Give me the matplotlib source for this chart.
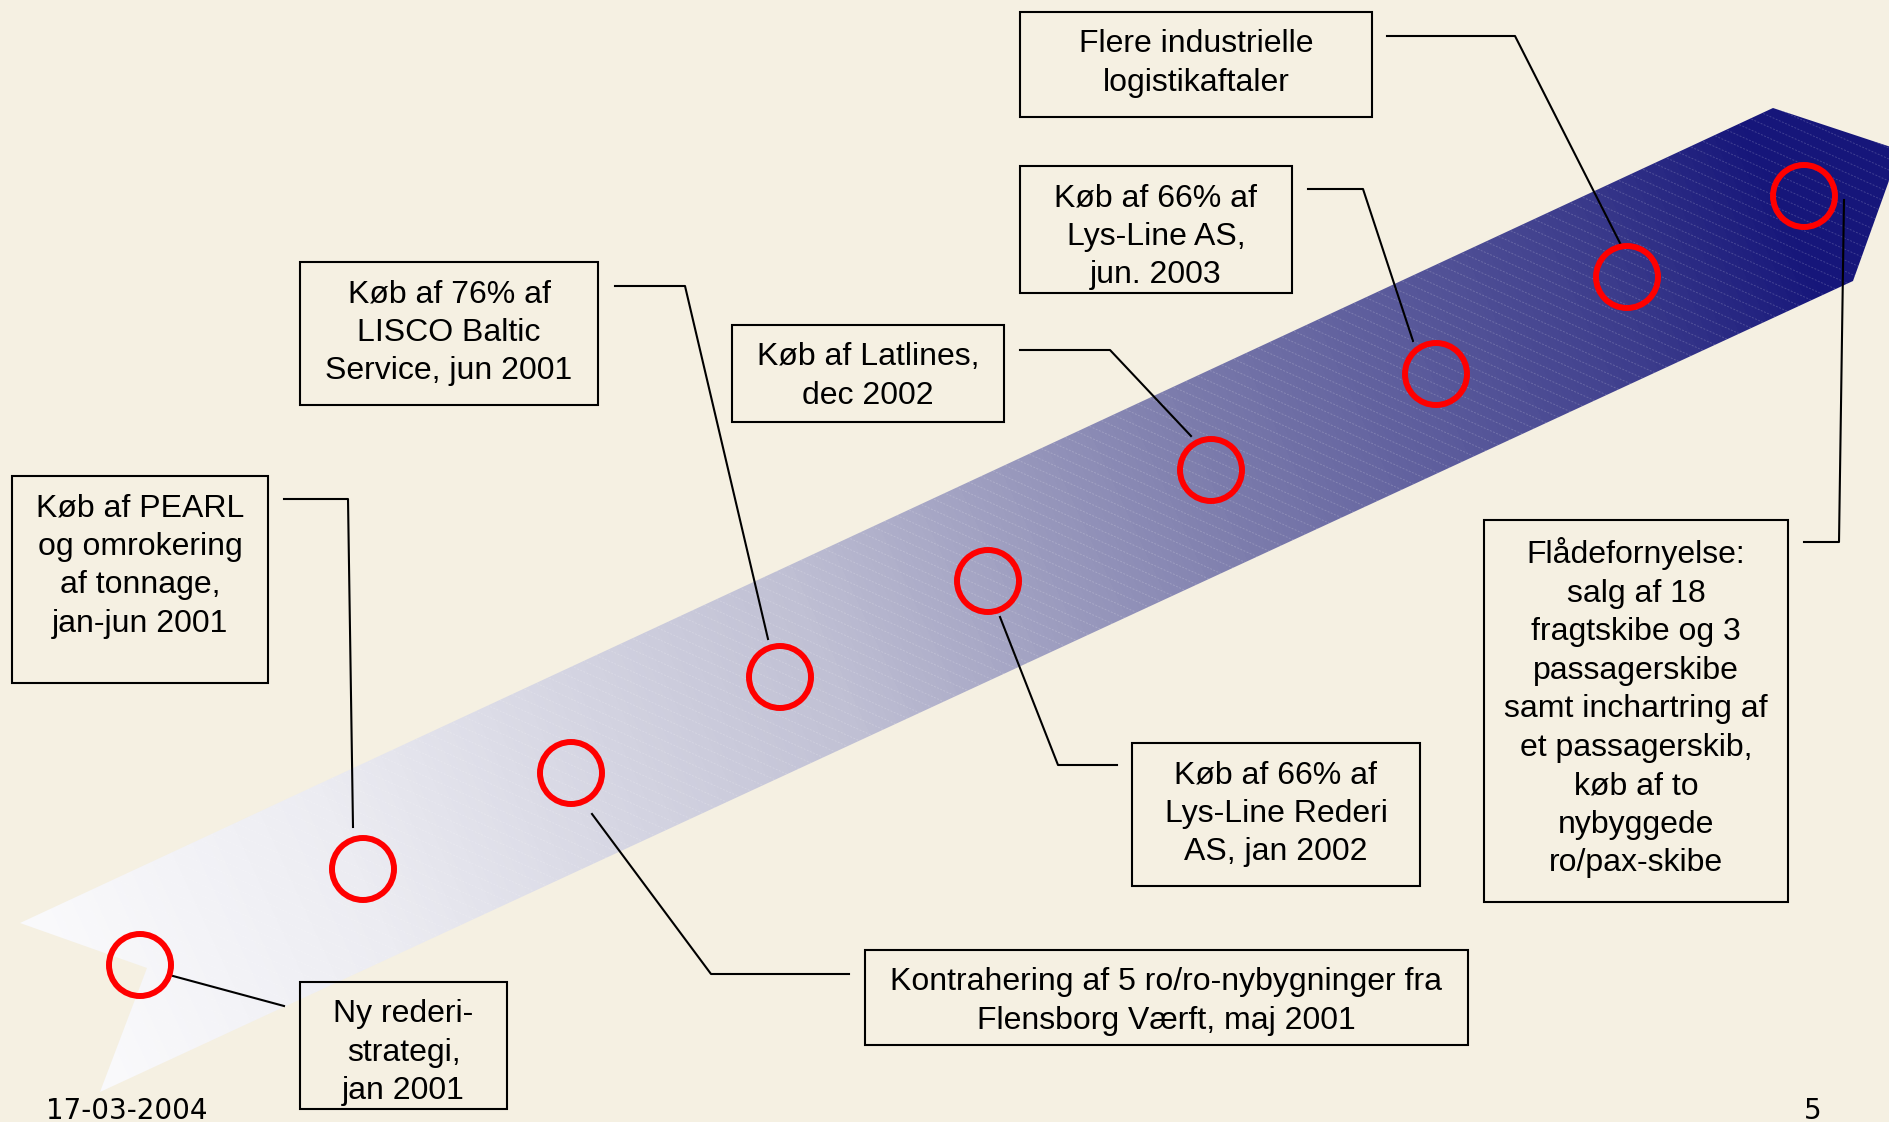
import numpy as np
import matplotlib.pyplot as plt
from matplotlib.colors import LinearSegmentedColormap
from matplotlib.patches import Polygon, Circle, Rectangle

W, H = 1890, 1122
BG = "#f5f0e2"

# milestone circles (pixel positions along the arrow)
circle_x = [140, 363, 571, 780, 988, 1211, 1436, 1627, 1804]
circle_y = [965, 869, 773, 677, 581, 470, 374, 277, 196]

labels = [
    "Ny rederi-\nstrategi,\njan 2001",
    "Køb af PEARL\nog omrokering\naf tonnage,\njan-jun 2001",
    "Kontrahering af 5 ro/ro-nybygninger fra\nFlensborg Værft, maj 2001",
    "Køb af 76% af\nLISCO Baltic\nService, jun 2001",
    "Køb af 66% af\nLys-Line Rederi\nAS, jan 2002",
    "Køb af Latlines,\ndec 2002",
    "Køb af 66% af\nLys-Line AS,\njun. 2003",
    "Flere industrielle\nlogistikaftaler",
    "Flådefornyelse:\nsalg af 18\nfragtskibe og 3\npassagerskibe\nsamt inchartring af\net passagerskib,\nkøb af to\nnybyggede\nro/pax-skibe",
]
# boxes: left, top, right, bottom
boxes = [
    (300, 982, 507, 1109),
    (12, 476, 268, 683),
    (865, 950, 1468, 1045),
    (300, 262, 598, 405),
    (1132, 743, 1420, 886),
    (732, 325, 1004, 422),
    (1020, 166, 1292, 293),
    (1020, 12, 1372, 117),
    (1484, 520, 1788, 902),
]
# connector polylines from box to circle
connectors = [
    [(284, 1006), (173, 976)],
    [(284, 499), (348, 499), (353, 827)],
    [(849, 974), (711, 974), (592, 814)],
    [(615, 286), (685, 286), (768, 639)],
    [(1117, 765), (1058, 765), (1000, 617)],
    [(1020, 350), (1110, 350), (1191, 436)],
    [(1308, 189), (1363, 189), (1413, 341)],
    [(1387, 36), (1515, 36), (1621, 245)],
    [(1804, 542), (1839, 542), (1844, 200)],
]

arrow = [(20, 923), (1773, 108), (1900, 150), (1853, 281), (100, 1092), (147, 968)]

fig = plt.figure(figsize=(W / 100, H / 100), dpi=100)
fig.patch.set_facecolor(BG)
ax = fig.add_axes([0, 0, 1, 1])
ax.set_xlim(0, W)
ax.set_ylim(H, 0)
ax.axis("off")

# gradient arrow
cmap = LinearSegmentedColormap.from_list(
    "arr", [(0.0, "#fafafc"), (0.17, "#ececf2"), (0.44, "#c0c0d4"),
            (0.67, "#7c7cac"), (0.9, "#3c3c8c"), (1.0, "#16167a")])
gx, gy = np.meshgrid(np.arange(0, W), np.arange(0, H))
d = np.array([1753.0, -815.0])
d = d / np.linalg.norm(d)
t = ((gx - 60) * d[0] + (gy - 1000) * d[1]) / 1900.0
t = np.clip(t, 0, 1)
img = ax.imshow(t, cmap=cmap, extent=(0, W, H, 0), origin="upper",
                interpolation="bilinear", zorder=1)
poly = Polygon(arrow, closed=True, facecolor="none", edgecolor="none")
ax.add_patch(poly)
img.set_clip_path(poly)

# faint dashed stripes
for c in np.arange(-900, 1130, 11):
    ln, = ax.plot([0, W], [c, c + W * 0.45], color="white", lw=0.7,
                  alpha=0.18, ls=(0, (2, 1.5)), zorder=2)
    ln.set_clip_path(poly)

for pts in connectors:
    xs, ys = zip(*pts)
    ax.plot(xs, ys, color="black", lw=1.5, zorder=3)

for x, y in zip(circle_x, circle_y):
    ax.add_patch(Circle((x, y), 31, facecolor="none", edgecolor="#ff0000",
                        lw=4.3, zorder=4))

# text is top-anchored inside each box
for (l, t0, r, b), lab in zip(boxes, labels):
    ax.add_patch(Rectangle((l, t0), r - l, b - t0, facecolor="none",
                           edgecolor="black", lw=1.5, zorder=5))
    ax.text((l + r) / 2, t0 + 17, lab, ha="center", va="top",
            fontsize=23, family="Liberation Sans", linespacing=1.37,
            zorder=6)

ax.text(46, 1111, "17-03-2004", fontsize=20, family="DejaVu Sans",
        ha="left", va="center")
ax.text(1813, 1111, "5", fontsize=20, family="DejaVu Sans",
        ha="center", va="center")

fig.savefig("out.png", dpi=100, facecolor=BG)
